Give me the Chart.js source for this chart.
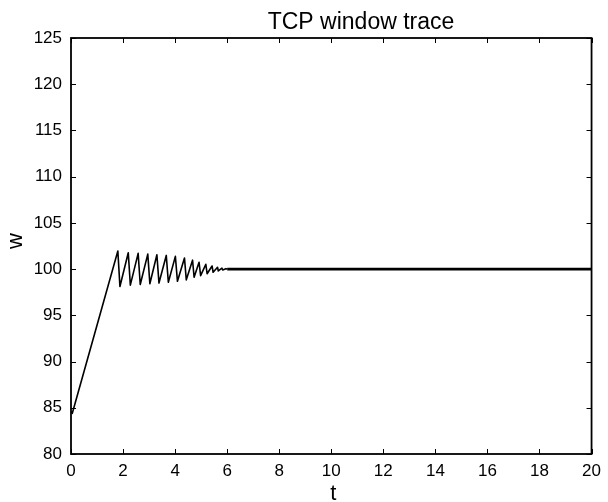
<!DOCTYPE html>
<html>
<head>
<meta charset="utf-8">
<script src="https://cdn.jsdelivr.net/npm/chart.js@4/dist/chart.umd.min.js"></script>
<style>
  html, body { margin: 0; padding: 0; background: #fff; }
  #wrap { width: 608px; height: 502px; position: relative; }
</style>
</head>
<body>
<div id="wrap"><canvas id="c" width="608" height="502"></canvas></div>
<script>
// ---- data ----
const chartTitle = "TCP window trace";
const xLabel = "t";
const yLabel = "w";

// transient phase (slow start ramp + decaying sawtooth)
const transientT = [0, 0.05, 1.80, 1.88, 2.20, 2.28, 2.58, 2.66, 2.95, 3.03, 3.30, 3.38, 3.66, 3.74,
  4.01, 4.09, 4.36, 4.43, 4.67, 4.73, 4.92, 4.98, 5.18, 5.23, 5.42, 5.46, 5.63, 5.66, 5.80, 5.83, 5.95, 6.00];
const transientW = [84.6, 84.4, 101.95, 98.12, 101.77, 98.27, 101.70, 98.34, 101.62, 98.42, 101.55, 98.49, 101.48, 98.58,
  101.38, 98.68, 101.20, 98.84, 100.97, 99.12, 100.74, 99.30, 100.52, 99.50, 100.34, 99.66, 100.20, 99.80, 100.10, 99.90, 100.05, 100.00];

// steady state (thin noisy band at 100)
const steadyT = [6.00, 20.00];
const steadyW = [100.00, 100.00];

const xTicks = [0, 2, 4, 6, 8, 10, 12, 14, 16, 18, 20];
const yTicks = [80, 85, 90, 95, 100, 105, 110, 115, 120, 125];

const FONT = "'Liberation Sans', Arial, Helvetica, sans-serif";

function pts(ts, ws) { return ts.map((t, i) => ({ x: t, y: ws[i] })); }

const framePlugin = {
  id: 'frame',
  afterDraw(chart) {
    const ctx = chart.ctx;
    const a = chart.chartArea;
    const xs = chart.scales.x, ys = chart.scales.y;
    ctx.save();
    ctx.strokeStyle = '#000';
    // inward ticks on all four sides
    ctx.lineWidth = 1;
    const tl = 5;
    ctx.beginPath();
    xTicks.forEach(v => {
      const px = Math.round(xs.getPixelForValue(v)) + 0.5;
      ctx.moveTo(px, a.bottom); ctx.lineTo(px, a.bottom - tl);
      ctx.moveTo(px, a.top); ctx.lineTo(px, a.top + tl);
    });
    yTicks.forEach(v => {
      const py = Math.round(ys.getPixelForValue(v)) + 0.5;
      ctx.moveTo(a.left, py); ctx.lineTo(a.left + tl, py);
      ctx.moveTo(a.right, py); ctx.lineTo(a.right - tl, py);
    });
    ctx.stroke();
    // box
    ctx.lineWidth = 1.8;
    ctx.strokeRect(a.left, a.top, a.right - a.left, a.bottom - a.top);
    // texts
    ctx.fillStyle = '#000';
    ctx.font = '23px ' + FONT;
    ctx.textAlign = 'center';
    ctx.textBaseline = 'alphabetic';
    ctx.fillText(chartTitle, 361, 29);
    ctx.font = '22px ' + FONT;
    ctx.fillText(xLabel, (a.left + a.right) / 2 + 2, 500);
    ctx.save();
    ctx.translate(22, 241);
    ctx.rotate(-Math.PI / 2);
    ctx.fillText(yLabel, 0, 0);
    ctx.restore();
    ctx.restore();
  }
};

new Chart(document.getElementById('c'), {
  type: 'scatter',
  data: {
    datasets: [
      {
        label: 'transient',
        data: pts(transientT, transientW),
        showLine: true,
        borderColor: '#000',
        borderWidth: 1.6,
        borderJoinStyle: 'round',
        pointRadius: 0,
        tension: 0,
        fill: false
      },
      {
        label: 'steady',
        data: pts(steadyT, steadyW),
        showLine: true,
        borderColor: '#000',
        borderWidth: 2.6,
        pointRadius: 0,
        tension: 0,
        fill: false
      }
    ]
  },
  options: {
    responsive: false,
    animation: false,
    devicePixelRatio: 1,
    layout: { padding: { top: 38, right: 10, left: 0, bottom: 0 } },
    plugins: {
      legend: { display: false },
      title: { display: false },
      tooltip: { enabled: false }
    },
    scales: {
      x: {
        type: 'linear',
        min: 0, max: 20,
        afterFit(s) { s.height = 48; },
        afterBuildTicks(s) { s.ticks = xTicks.map(v => ({ value: v })); },
        grid: { display: false, drawTicks: false },
        border: { display: false },
        ticks: { color: '#000', padding: 7, maxRotation: 0, autoSkip: false, font: { family: FONT, size: 17 } }
      },
      y: {
        type: 'linear',
        min: 80, max: 125,
        afterFit(s) { s.width = 71; },
        afterBuildTicks(s) { s.ticks = yTicks.map(v => ({ value: v })); },
        grid: { display: false, drawTicks: false },
        border: { display: false },
        ticks: { color: '#000', padding: 9, autoSkip: false, font: { family: FONT, size: 17 } }
      }
    }
  },
  plugins: [framePlugin]
});
</script>
</body>
</html>
